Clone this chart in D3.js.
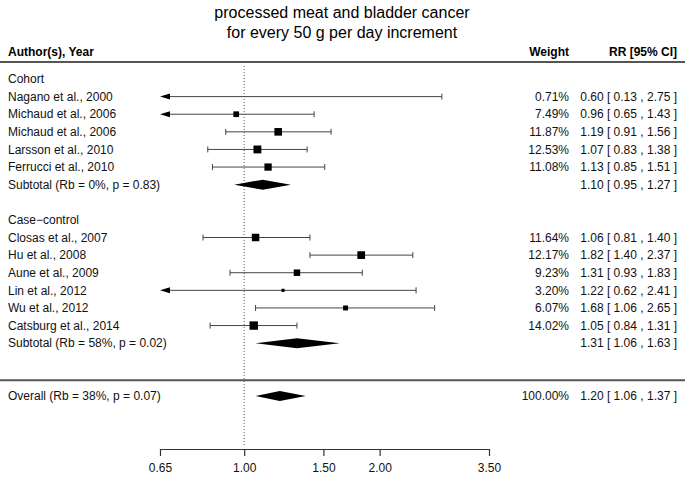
<!DOCTYPE html>
<html>
<head>
<meta charset="utf-8">
<script src="https://cdn.jsdelivr.net/npm/d3@7"></script>
<style>
  body { margin: 0; background: #fff; }
  svg { font-family: "Liberation Sans", Arial, Helvetica, sans-serif; }
</style>
</head>
<body>
<div id="chart"></div>
<script>
// data
const cohortNames = ["Nagano et al., 2000", "Michaud et al., 2006", "Michaud et al., 2006", "Larsson et al., 2010", "Ferrucci et al., 2010"];
const cohortRR = [0.60, 0.96, 1.19, 1.07, 1.13];
const cohortLo = [0.13, 0.65, 0.91, 0.83, 0.85];
const cohortHi = [2.75, 1.43, 1.56, 1.38, 1.51];
const cohortWeight = [0.71, 7.49, 11.87, 12.53, 11.08];
const cohortSub = ["Subtotal (Rb = 0%, p = 0.83)", 1.10, 0.95, 1.27];

const ccNames = ["Closas et al., 2007", "Hu et al., 2008", "Aune et al., 2009", "Lin et al., 2012", "Wu et al., 2012", "Catsburg et al., 2014"];
const ccRR = [1.06, 1.82, 1.31, 1.22, 1.68, 1.05];
const ccLo = [0.81, 1.40, 0.93, 0.62, 1.06, 0.84];
const ccHi = [1.40, 2.37, 1.83, 2.41, 2.65, 1.31];
const ccWeight = [11.64, 12.17, 9.23, 3.20, 6.07, 14.02];
const ccSub = ["Subtotal (Rb = 58%, p = 0.02)", 1.31, 1.06, 1.63];

const overall = ["Overall (Rb = 38%, p = 0.07)", 1.20, 1.06, 1.37, 100];
const xTicks = [0.65, 1.00, 1.50, 2.00, 3.50];

const width = 685, height = 477;
const svg = d3.select("#chart").append("svg")
  .attr("width", width).attr("height", height);

const x = d3.scaleLog().domain([0.65, 3.5]).range([160, 489]);
const y = d3.scaleLinear().domain([0, 18]).range([396, 79]);
const sq = d3.scaleLinear().domain([Math.sqrt(0.71), Math.sqrt(14.02)]).range([0.6, 8.4]);

const fmt = d3.format(".2f");
const ciText = (rr, lo, hi) => `${fmt(rr)} [ ${fmt(lo)} , ${fmt(hi)} ]`;
const lineCol = "#444";

// build rows top-down
const rows = [];
let r = 18;
rows.push({ type: "head", label: "Cohort", row: r-- });
cohortNames.forEach((n, i) => rows.push({ type: "study", label: n, rr: cohortRR[i], lo: cohortLo[i], hi: cohortHi[i], w: cohortWeight[i], row: r-- }));
rows.push({ type: "sum", label: cohortSub[0], rr: cohortSub[1], lo: cohortSub[2], hi: cohortSub[3], row: r-- });
r--;
rows.push({ type: "head", label: "Case\u2212control", row: r-- });
ccNames.forEach((n, i) => rows.push({ type: "study", label: n, rr: ccRR[i], lo: ccLo[i], hi: ccHi[i], w: ccWeight[i], row: r-- }));
rows.push({ type: "sum", label: ccSub[0], rr: ccSub[1], lo: ccSub[2], hi: ccSub[3], row: r-- });
rows.push({ type: "sum", label: overall[0], rr: overall[1], lo: overall[2], hi: overall[3], w: overall[4], row: 0 });

// title
svg.append("text").attr("x", 342).attr("y", 18).attr("text-anchor", "middle")
  .style("font-size", "16px").text("processed meat and bladder cancer");
svg.append("text").attr("x", 342).attr("y", 38).attr("text-anchor", "middle")
  .style("font-size", "16px").text("for every 50 g per day increment");

// header
const head = svg.append("g").style("font-size", "12px").style("font-weight", "bold");
head.append("text").attr("x", 8).attr("y", 56).text("Author(s), Year");
head.append("text").attr("x", 569).attr("y", 56).attr("text-anchor", "end").text("Weight");
head.append("text").attr("x", 677).attr("y", 56).attr("text-anchor", "end").text("RR [95% CI]");

// separator lines
svg.append("line").attr("x1", 0).attr("x2", width).attr("y1", 62).attr("y2", 62)
  .attr("stroke", "#555").attr("stroke-width", 2);
svg.append("line").attr("x1", 0).attr("x2", width)
  .attr("y1", y(0.9)).attr("y2", y(0.9))
  .attr("stroke", "#555").attr("stroke-width", 2);

// reference line at 1
svg.append("line").attr("x1", x(1)).attr("x2", x(1)).attr("y1", 66).attr("y2", 447)
  .attr("stroke", "#555").attr("stroke-width", 1).attr("stroke-dasharray", "1,2");

// labels
const lab = svg.append("g").style("font-size", "12px").attr("fill", "#111");
rows.forEach(d => {
  lab.append("text").attr("x", 8).attr("y", y(d.row)).attr("dy", "0.35em").text(d.label);
  if (d.type === "head") return;
  if (d.w !== undefined) {
    lab.append("text").attr("x", 569).attr("y", y(d.row)).attr("dy", "0.35em")
      .attr("text-anchor", "end").text(fmt(d.w) + "%");
  }
  lab.append("text").attr("x", 677).attr("y", y(d.row)).attr("dy", "0.35em")
    .attr("text-anchor", "end").text(ciText(d.rr, d.lo, d.hi));
});

// study marks
const [xmin, xmax] = x.domain();
const marks = svg.append("g");
rows.filter(d => d.type === "study").forEach(d => {
  const yy = y(d.row);
  const arrowLeft = d.lo <= xmin;
  const x1 = arrowLeft ? x(xmin) : x(d.lo);
  const x2 = x(Math.min(d.hi, xmax));
  marks.append("line").attr("x1", arrowLeft ? x1 + 8 : x1).attr("x2", x2)
    .attr("y1", yy).attr("y2", yy).attr("stroke", lineCol).attr("stroke-width", 1);
  if (arrowLeft) {
    marks.append("path")
      .attr("d", `M${x1},${yy} L${x1 + 10},${yy - 3} L${x1 + 10},${yy + 3} Z`)
      .attr("fill", "#000");
  } else {
    marks.append("line").attr("x1", x1).attr("x2", x1).attr("y1", yy - 3).attr("y2", yy + 3)
      .attr("stroke", lineCol);
  }
  marks.append("line").attr("x1", x2).attr("x2", x2).attr("y1", yy - 3).attr("y2", yy + 3)
    .attr("stroke", lineCol);
  if (d.rr > xmin) {
    const s = sq(Math.sqrt(d.w));
    marks.append("rect").attr("x", x(d.rr) - s / 2).attr("y", yy - s / 2)
      .attr("width", s).attr("height", s).attr("fill", "#000");
  }
});

// summary diamonds
rows.filter(d => d.type === "sum").forEach(d => {
  const yy = y(d.row);
  marks.append("path")
    .attr("d", `M${x(d.lo)},${yy} L${x(d.rr)},${yy - 5} L${x(d.hi)},${yy} L${x(d.rr)},${yy + 5} Z`)
    .attr("fill", "#000");
});

// x axis: d3 axis for ticks and labels, styled afterwards
const axisY = 449;
const axis = d3.axisBottom(x).tickValues(xTicks).tickFormat(fmt).tickSize(7).tickPadding(7);
const ag = svg.append("g").attr("transform", `translate(0,${axisY})`).call(axis);
ag.select(".domain").remove();
ag.selectAll(".tick line").attr("stroke", "#333").attr("stroke-width", 1.2);
ag.append("line").attr("x1", x(xmin)).attr("x2", x(xmax)).attr("y1", 0.5).attr("y2", 0.5)
  .attr("stroke", "#333").attr("stroke-width", 1.2);
ag.selectAll(".tick text").style("font-size", "12px")
  .style("font-family", "'Liberation Sans', Arial, sans-serif").attr("fill", "#111");
</script>
</body>
</html>
